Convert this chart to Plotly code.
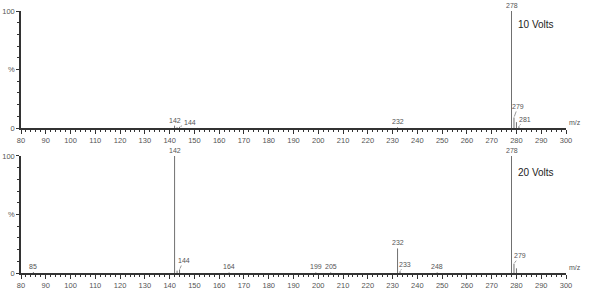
import plotly.graph_objects as go
from plotly.subplots import make_subplots

# Top spectrum (10 Volts)
mz_10 = [142, 143, 144, 232, 278, 279, 280, 281]
int_10 = [2.0, 0.6, 1.0, 0.6, 100, 9.0, 5.0, 1.5]
labels_10 = [142, 144, 232, 278, 279, 281]

# Bottom spectrum (20 Volts)
mz_20 = [85, 142, 143, 144, 164, 199, 205, 232, 233, 248, 278, 279, 280]
int_20 = [0.8, 100, 2.0, 3.0, 0.5, 0.5, 0.5, 21, 1.5, 0.5, 100, 8.0, 4.0]
labels_20 = [85, 142, 144, 164, 199, 205, 232, 233, 248, 278, 279]

titles = ["10 Volts", "20 Volts"]
x_ticks = list(range(80, 301, 10))

# label offsets (px) for peaks annotated with a leader line
offsets_10 = {144: (10, -4), 279: (4, -11), 281: (6, -7)}
offsets_20 = {144: (4, -9), 233: (5, -7), 279: (6, -8)}

fig = make_subplots(rows=2, cols=1, vertical_spacing=0.1)

BAR = "#707070"
TXT = "#555555"
FONT = "Liberation Sans, Arial, sans-serif"


def stick_xy(mz, inten):
    xs, ys = [], []
    for m, v in zip(mz, inten):
        xs += [m, m, None]
        ys += [0, v, None]
    return xs, ys


for row, (mz, inten, labs, offs) in enumerate(
        [(mz_10, int_10, labels_10, offsets_10), (mz_20, int_20, labels_20, offsets_20)], start=1):
    sx, sy = stick_xy(mz, inten)
    fig.add_trace(go.Scatter(x=sx, y=sy, mode="lines", line=dict(color=BAR, width=1),
                             showlegend=False, cliponaxis=False), row=row, col=1)
    xref = "x" if row == 1 else "x2"
    yref = "y" if row == 1 else "y2"
    for m in labs:
        v = inten[mz.index(m)]
        if m in offs:
            ax, ay = offs[m]
            fig.add_annotation(x=m, y=v, xref=xref, yref=yref, text=str(m), showarrow=True,
                               arrowhead=0, arrowwidth=0.6, arrowcolor=TXT, ax=ax, ay=ay,
                               standoff=1, font=dict(size=7, color=TXT, family=FONT))
        else:
            fig.add_annotation(x=m, y=v, xref=xref, yref=yref, text=str(m), showarrow=False,
                               yanchor="bottom", font=dict(size=7, color=TXT, family=FONT))

axis_common = dict(showline=True, linecolor="#333333", linewidth=1.5, showgrid=False, zeroline=False,
                   automargin=False, ticks="outside", tickcolor="#333333",
                   tickfont=dict(size=7.5, color=TXT, family=FONT))

for row in (1, 2):
    fig.update_xaxes(range=[80, 300], tickvals=x_ticks, ticklen=4,
                     minor=dict(dtick=2, ticklen=2, ticks="outside", tickcolor="#333333"),
                     row=row, col=1, **axis_common)
    fig.update_yaxes(range=[0, 100], tickvals=[0, 50, 100], ticktext=["0", "%", "100"], ticklen=3,
                     minor=dict(dtick=10, ticklen=2, ticks="outside", tickcolor="#333333"),
                     row=row, col=1, **axis_common)

# domains matched to the reference layout
fig.update_layout(
    xaxis=dict(domain=[0, 1]), xaxis2=dict(domain=[0, 1]),
    yaxis=dict(domain=[0.5534, 1.0]), yaxis2=dict(domain=[0.0, 0.4466]),
)

for i, t in enumerate(titles):
    fig.add_annotation(x=0.945, y=0.95 if i == 0 else 0.385, xref="paper", yref="paper", text=t,
                       showarrow=False, font=dict(size=10, color="#222222", family=FONT),
                       xanchor="center", yanchor="middle")
    fig.add_annotation(x=1.0, y=0.5534 if i == 0 else 0.0, xref="paper", yref="paper", text="m/z",
                       showarrow=False, font=dict(size=7, color=TXT, family=FONT),
                       xanchor="left", yanchor="bottom", xshift=1)

fig.update_layout(width=589, height=291, margin=dict(l=21, r=23, t=11, b=18),
                  plot_bgcolor="white", paper_bgcolor="white")

fig.write_html("out.html")
